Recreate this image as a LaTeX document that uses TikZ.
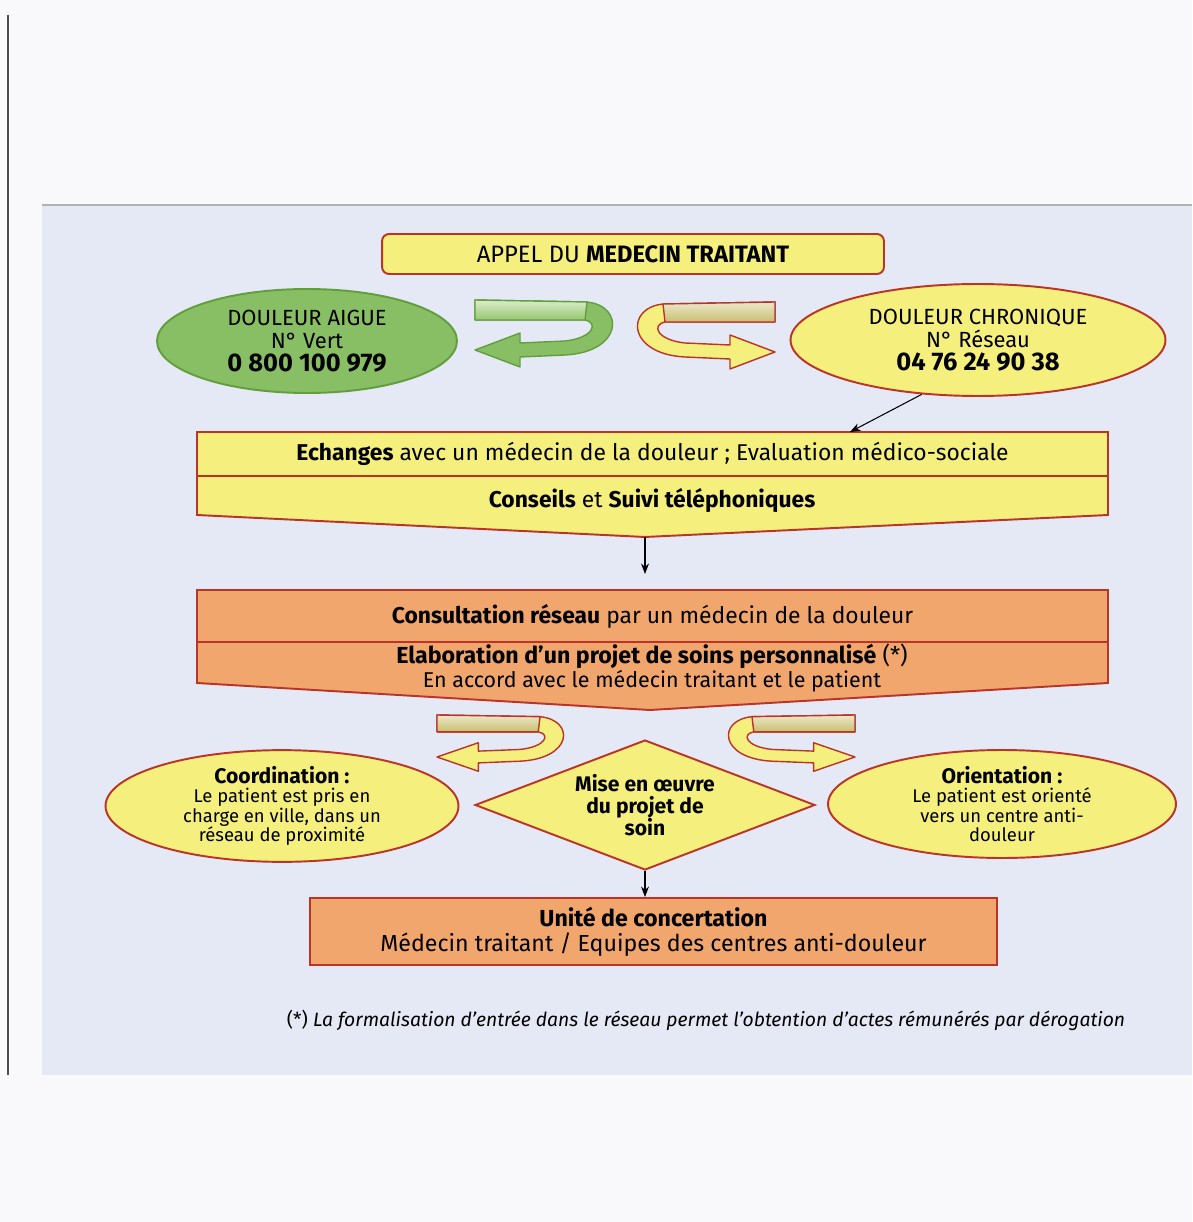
\documentclass[tikz,border=0pt]{standalone}
\usepackage{fontspec}
\setmainfont{Fira Sans}
\usetikzlibrary{calc, positioning, arrows.meta, shapes.geometric}
\definecolor{paper}{RGB}{249,249,251}
\definecolor{panelblue}{RGB}{229,233,245}
\definecolor{boxred}{RGB}{186,52,40}
\definecolor{softyellow}{RGB}{245,239,125}
\definecolor{softorange}{RGB}{240,166,108}
\definecolor{leafgreen}{RGB}{136,190,100}
\definecolor{leaflight}{RGB}{150,200,110}
\definecolor{leafdark}{RGB}{98,158,62}
\definecolor{tanband}{RGB}{200,190,110}

\tikzset{
  pics/ribbon/.style args={#1/#2/#3}{code={
    \filldraw[fill=#2, draw=#3, line width=0.8pt, line join=round]
      (0,-50) -- (112,-48) .. controls (150,-44) and (148,2) .. (90,5)
      -- (45,7) -- (45,17) -- (0,0) -- (45,-17) -- (45,-7) -- (90,-9)
      .. controls (118,-12) and (124,-27) .. (110,-30) -- (0,-30) -- cycle;
    \filldraw[top color=#1!35!white, bottom color=#1, draw=#3, line width=0.8pt, line join=round]
      (0,-50) -- (112,-48) -- (110,-30) -- (0,-30) -- cycle;
  }},
}

\begin{document}
\begin{tikzpicture}[x=0.02cm, y=-0.02cm,
    frame/.style={draw=boxred, line width=1.1pt},
    txt/.style={font=\fontsize{13}{14}\selectfont, align=center, inner sep=0pt},
    small/.style={font=\fontsize{10.5}{11}\selectfont, align=center, inner sep=0pt},
    oval/.style={ellipse, frame, fill=softyellow, small},
    row/.style={rectangle, frame, minimum width=18.22cm, minimum height=0.88cm, txt},
    arr/.style={-{Stealth[length=6pt, width=4.5pt]}, line width=0.6pt},
  ]
  \useasboundingbox[fill=paper] (0,0) rectangle (1192,1222);
  % scanned sheet
  \fill[panelblue] (42,205) rectangle (1192,1075);
  \draw[gray!60, line width=0.8pt] (42,205) -- (1192,205);
  \draw[black!70, line width=0.6pt] (8,15) -- (8,1075);

  % call and the two numbers
  \node[rectangle, rounded corners=4pt, frame, fill=softyellow, minimum width=10.04cm,
    minimum height=0.8cm, txt, font=\fontsize{13.5}{14}\selectfont] (appel) at (633,254)
    {APPEL DU \textbf{MEDECIN TRAITANT}};
  \node[ellipse, draw=leafdark, line width=1.1pt, fill=leafgreen, minimum width=6cm,
    minimum height=2.08cm, txt, font=\fontsize{12.5}{13.2}\selectfont] (aigue) at (307,341)
    {DOULEUR AIGUE\\N° Vert\\{\fontsize{14.5}{14}\selectfont\bfseries 0 800 100 979}};
  \node[ellipse, frame, fill=softyellow, minimum width=7.5cm, minimum height=2.24cm,
    txt, font=\fontsize{12.5}{13.2}\selectfont] (chron) at (978,340)
    {DOULEUR CHRONIQUE\\N° Réseau\\{\fontsize{14.5}{14}\selectfont\bfseries 04 76 24 90 38}};
  \pic at (475,350) {ribbon=leaflight/leafgreen/leafdark};
  \pic[xscale=-1] at (775,352) {ribbon=tanband/softyellow/boxred};

  % exchanges
  \node[row, fill=softyellow] (ech) at (652.5,454)
    {\textbf{Echanges} avec un médecin de la douleur ; Evaluation médico-sociale};
  \filldraw[frame, fill=softyellow] (197,476) -- (1108,476) -- (1108,515) -- (645,537) -- (197,515) -- cycle;
  \node[txt] (conseil) at (652,500) {\textbf{Conseils} et \textbf{Suivi téléphoniques}};
  \coordinate (ech-in) at (850,432);
  \coordinate (ech-tip) at (645,537);

  % consultation
  \node[row, fill=softorange, minimum height=1.04cm] (consult) at (652.5,616)
    {\textbf{Consultation réseau} par un médecin de la douleur};
  \filldraw[frame, fill=softorange] (197,642) -- (1108,642) -- (1108,683) -- (650,710) -- (197,683) -- cycle;
  \node[txt, font=\fontsize{13.2}{13.5}\selectfont] (projet) at (652,668)
    {\textbf{Elaboration d'un projet de soins personnalisé} (*)\\
    {\fontsize{12.2}{12}\selectfont En accord avec le médecin traitant et le patient}};
  \coordinate (consult-in) at (645,574);

  % two ways
  \pic[xscale=0.92, yscale=0.84] at (437,757) {ribbon=tanband/softyellow/boxred};
  \pic[xscale=-0.92, yscale=0.84] at (855,757) {ribbon=tanband/softyellow/boxred};
  \node[oval, minimum width=7.06cm, minimum height=2.16cm] (coord) at (282,806)
    {{\fontsize{12}{12}\selectfont\bfseries Coordination :}\\Le patient est pris en\\charge en ville, dans un\\réseau de proximité};
  \node[diamond, frame, fill=softyellow, aspect=2.6, minimum width=6.8cm, minimum height=2.6cm,
    inner sep=0pt, align=center, font=\fontsize{12}{12.5}\selectfont\bfseries] (mise) at (645,805)
    {Mise en œuvre\\du projet de\\soin};
  \node[oval, minimum width=6.96cm, minimum height=2.16cm] (orient) at (1002,804)
    {{\fontsize{12}{12}\selectfont\bfseries Orientation :}\\Le patient est orienté\\vers un centre anti-\\douleur};

  % concertation
  \node[rectangle, frame, fill=softorange, minimum width=13.74cm, minimum height=1.34cm,
    txt, font=\fontsize{13.2}{14}\selectfont] (unite) at (653.5,931.5)
    {\textbf{Unité de concertation}\\Médecin traitant / Equipes des centres anti-douleur};

  \draw[arr] (chron.224) -- (ech-in);
  \draw[arr] (ech-tip) -- (consult-in);
  \draw[arr] (mise.south) -- (mise.south |- unite.north);

  \node[font=\fontsize{11}{12}\selectfont] (note) at (706,1020)
    {(*) \textit{La formalisation d'entrée dans le réseau permet l'obtention d'actes rémunérés par dérogation}};
\end{tikzpicture}
\end{document}
